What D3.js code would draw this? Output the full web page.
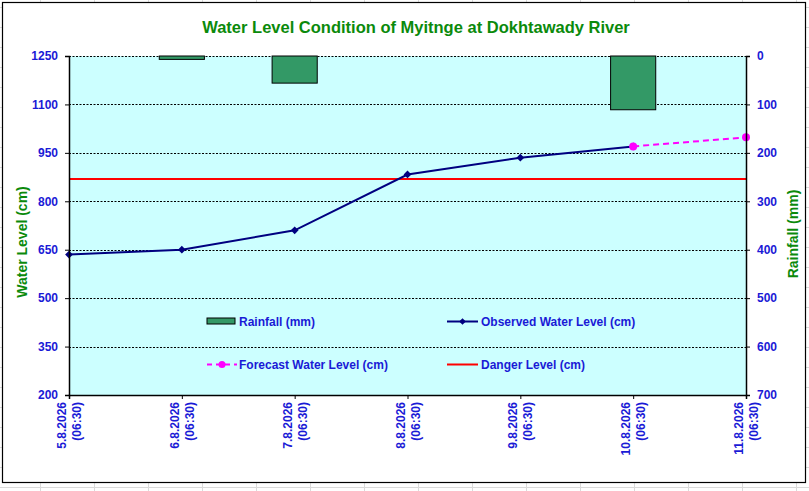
<!DOCTYPE html>
<html>
<head>
<meta charset="utf-8">
<script src="https://cdn.jsdelivr.net/npm/d3@7"></script>
<style>
  body { margin: 0; background: #fff; }
  text { font-family: "Liberation Sans", Arial, sans-serif; font-weight: bold; }
</style>
</head>
<body>
<script>
// chart data
var dates = ["5.8.2026", "6.8.2026", "7.8.2026", "8.8.2026", "9.8.2026", "10.8.2026", "11.8.2026"];
var times = ["(06:30)", "(06:30)", "(06:30)", "(06:30)", "(06:30)", "(06:30)", "(06:30)"];
var rainfall = [0, 7, 56, 0, 0, 111, 0];
var observed = [635, 650, 710, 883, 935, 970, null];
var forecast = [null, null, null, null, null, 970, 998];
var danger = [869, 869, 869, 869, 869, 869, 869];
var levelTicks = [200, 350, 500, 650, 800, 950, 1100, 1250];
var rainTicks = [0, 100, 200, 300, 400, 500, 600, 700];

drawChart();

function drawChart(){
    var width = 809, height = 491;
    var blue = "#1a1ad6", green = "#0b8a0b";

    var svg = d3.select("body").append("svg")
        .attr("width", width)
        .attr("height", height);

    // excel cell grid behind the chart
    var grid = svg.append("g").attr("stroke", "#dadada").attr("stroke-width", 1);
    d3.range(40, width, 54).forEach(function(gx){
        grid.append("line").attr("x1", gx + 0.5).attr("x2", gx + 0.5).attr("y1", 0).attr("y2", height);
    });
    d3.range(7, height, 20).forEach(function(gy){
        grid.append("line").attr("x1", 0).attr("x2", width).attr("y1", gy + 0.5).attr("y2", gy + 0.5);
    });

    // chart frame
    svg.append("rect")
        .attr("x", 2.5).attr("y", 2.5)
        .attr("width", 803).attr("height", 480)
        .attr("fill", "#fff")
        .attr("stroke", "#000")
        .attr("stroke-width", 1.2);

    var pLeft = 69, pRight = 746, pTop = 56, pBottom = 395;

    var x = d3.scalePoint()
        .domain(dates)
        .range([pLeft, pRight]);

    var y = d3.scaleLinear()
        .domain([200, 1250])
        .range([pBottom, pTop]);

    var yRain = d3.scaleLinear()
        .domain([0, 700])
        .range([pTop, pBottom]);

    // plot area
    svg.append("rect")
        .attr("x", pLeft).attr("y", pTop)
        .attr("width", pRight - pLeft).attr("height", pBottom - pTop)
        .attr("fill", "#ccffff");

    // dashed gridlines
    svg.append("g").selectAll("line")
        .data(levelTicks.slice(1))
        .enter()
        .append("line")
        .attr("x1", pLeft).attr("x2", pRight)
        .attr("y1", function(d){ return Math.round(y(d)) + 0.5; })
        .attr("y2", function(d){ return Math.round(y(d)) + 0.5; })
        .attr("stroke", "#000")
        .attr("stroke-width", 1)
        .attr("stroke-dasharray", "2,1.5");

    // rainfall bars hanging from the top
    var barW = x.step() * 0.4;
    svg.append("g").selectAll("rect")
        .data(rainfall.map(function(r, i){ return {date: dates[i], rain: r}; }).filter(function(d){ return d.rain > 0; }))
        .enter()
        .append("rect")
        .attr("x", function(d){ return x(d.date) - barW / 2; })
        .attr("y", yRain(0))
        .attr("width", barW)
        .attr("height", function(d){ return yRain(d.rain) - yRain(0); })
        .attr("fill", "#339966")
        .attr("stroke", "#000")
        .attr("stroke-width", 1);

    var lineGen = d3.line()
        .defined(function(d){ return d.v != null; })
        .x(function(d){ return x(d.date); })
        .y(function(d){ return y(d.v); });

    function pts(arr){
        return arr.map(function(v, i){ return {date: dates[i], v: v}; });
    }

    // danger level
    svg.append("path")
        .datum(pts(danger))
        .attr("d", lineGen)
        .attr("fill", "none")
        .attr("stroke", "#ff0000")
        .attr("stroke-width", 2.2);

    // forecast
    svg.append("path")
        .datum(pts(forecast))
        .attr("d", lineGen)
        .attr("fill", "none")
        .attr("stroke", "#ff00ff")
        .attr("stroke-width", 2)
        .attr("stroke-dasharray", "6,4");

    // observed
    svg.append("path")
        .datum(pts(observed))
        .attr("d", lineGen)
        .attr("fill", "none")
        .attr("stroke", "#000080")
        .attr("stroke-width", 2);

    // square diamonds like excel markers
    var diamond = d3.symbol().type(d3.symbolSquare).size(30);
    svg.append("g").selectAll("path")
        .data(pts(observed).filter(function(d){ return d.v != null; }))
        .enter()
        .append("path")
        .attr("d", diamond)
        .attr("transform", function(d){ return "translate(" + x(d.date) + "," + y(d.v) + ") rotate(45)"; })
        .attr("fill", "#000080");

    svg.append("g").selectAll("circle")
        .data(pts(forecast).filter(function(d){ return d.v != null; }))
        .enter()
        .append("circle")
        .attr("cx", function(d){ return x(d.date); })
        .attr("cy", function(d){ return y(d.v); })
        .attr("r", 4)
        .attr("fill", "#ff00ff");

    // axes
    var leftAxis = svg.append("g")
        .attr("transform", "translate(" + pLeft + ",0)")
        .call(d3.axisLeft(y).tickValues(levelTicks).tickFormat(d3.format("d")).tickSize(4).tickPadding(7));

    var rightAxis = svg.append("g")
        .attr("transform", "translate(" + pRight + ",0)")
        .call(d3.axisRight(yRain).tickValues(rainTicks).tickFormat(d3.format("d")).tickSize(4).tickPadding(7));

    var bottomAxis = svg.append("g")
        .attr("transform", "translate(0," + pBottom + ")")
        .call(d3.axisBottom(x).tickSize(4).tickFormat(""));

    [leftAxis, rightAxis, bottomAxis].forEach(function(a){
        a.select(".domain").attr("stroke", "#000").attr("stroke-width", 1.5);
        a.selectAll(".tick line").attr("stroke", "#000");
        a.selectAll(".tick text")
            .attr("fill", blue)
            .style("font-size", "12px")
            .style("font-family", "'Liberation Sans', Arial, sans-serif")
            .style("font-weight", "bold");
    });

    // rotated two-line date labels
    var xl = svg.append("g").selectAll("text")
        .data(dates)
        .enter()
        .append("text")
        .attr("transform", function(d){ return "translate(" + x(d) + ",402) rotate(-90)"; })
        .attr("text-anchor", "end")
        .attr("fill", blue)
        .style("font-size", "12px");

    xl.append("tspan").attr("x", 0).attr("y", -3).text(function(d){ return d; });
    xl.append("tspan").attr("x", 0).attr("y", 12).text(function(d, i){ return times[i]; });

    // titles
    svg.append("text")
        .attr("x", 416).attr("y", 33)
        .attr("text-anchor", "middle")
        .attr("fill", green)
        .style("font-size", "16.5px")
        .text("Water Level Condition of Myitnge at Dokhtawady River");

    svg.append("text")
        .attr("transform", "translate(27,242) rotate(-90)")
        .attr("text-anchor", "middle")
        .attr("fill", green)
        .style("font-size", "14px")
        .text("Water Level (cm)");

    svg.append("text")
        .attr("transform", "translate(798,234) rotate(-90)")
        .attr("text-anchor", "middle")
        .attr("fill", green)
        .style("font-size", "14px")
        .text("Rainfall (mm)");

    // legend
    var legend = svg.append("g");
    legend.append("rect")
        .attr("x", 207).attr("y", 318).attr("width", 28).attr("height", 6)
        .attr("fill", "#339966").attr("stroke", "#000").attr("stroke-width", 1);
    legend.append("text").attr("x", 239).attr("y", 325.5).attr("fill", blue).style("font-size", "12px").text("Rainfall (mm)");

    legend.append("line").attr("x1", 447).attr("x2", 478).attr("y1", 321.5).attr("y2", 321.5)
        .attr("stroke", "#000080").attr("stroke-width", 2);
    legend.append("path").attr("d", d3.symbol().type(d3.symbolSquare).size(22)())
        .attr("transform", "translate(462.5,321.5) rotate(45)").attr("fill", "#000080");
    legend.append("text").attr("x", 481).attr("y", 325.5).attr("fill", blue).style("font-size", "12px").text("Observed Water Level (cm)");

    legend.append("line").attr("x1", 207).attr("x2", 237).attr("y1", 364.5).attr("y2", 364.5)
        .attr("stroke", "#ff00ff").attr("stroke-width", 2).attr("stroke-dasharray", "5,4");
    legend.append("circle").attr("cx", 222).attr("cy", 364.5).attr("r", 3.5).attr("fill", "#ff00ff");
    legend.append("text").attr("x", 239).attr("y", 368.5).attr("fill", blue).style("font-size", "12px").text("Forecast Water Level (cm)");

    legend.append("line").attr("x1", 447).attr("x2", 478).attr("y1", 364.5).attr("y2", 364.5)
        .attr("stroke", "#ff0000").attr("stroke-width", 2);
    legend.append("text").attr("x", 481).attr("y", 368.5).attr("fill", blue).style("font-size", "12px").text("Danger Level (cm)");
}
</script>
</body>
</html>
